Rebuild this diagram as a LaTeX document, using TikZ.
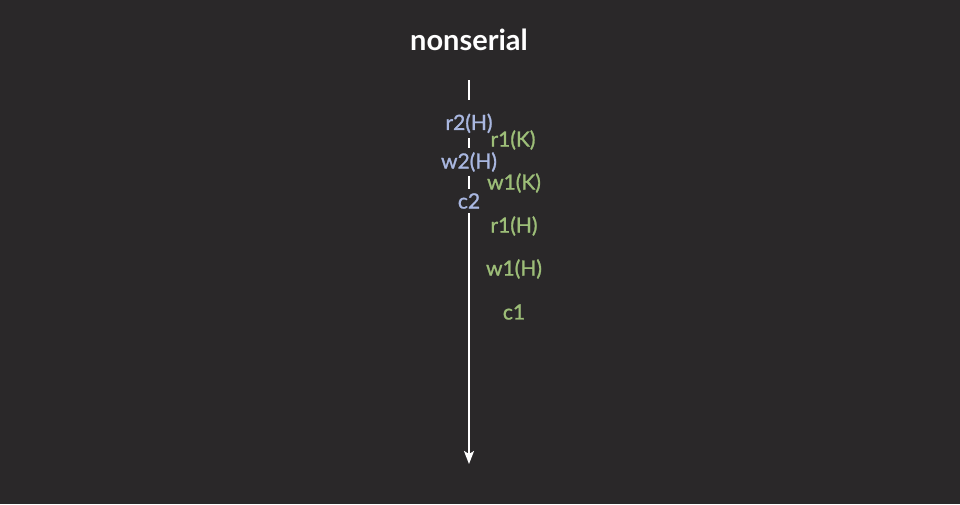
\documentclass[tikz,border=0pt]{standalone}
\usepackage{fontspec}
\setmainfont{Lato}
\newfontfamily\lblfont[FakeBold=1.2]{Lato}
\usetikzlibrary{arrows.meta}
\definecolor{bg}{HTML}{2A2829}
\definecolor{tblue}{HTML}{A9B7E0}
\definecolor{tgreen}{HTML}{9DBE78}
\tikzset{
  px/.style={x=1pt,y=-1pt},
  lbl/.style={inner xsep=1pt,inner ysep=4.5pt,font=\lblfont\fontsize{21}{24}\selectfont},
  tone/.style={lbl,fill=bg,text=tblue},
  ttwo/.style={lbl,text=tgreen},
  axis/.style={draw=white,line width=1.8pt,-{Stealth[length=13pt,width=10pt,inset=3pt]}}
}
\begin{document}
\begin{tikzpicture}[px]
\useasboundingbox[fill=bg] (0,0) rectangle (960,504);
\node[text=white,font=\fontsize{29}{32}\selectfont\bfseries] (title) at (469,40) {nonserial};
\coordinate (top) at (469,80);
\coordinate (bot) at (469,464);
\draw[axis] (top) -- (bot);
\node[tone,text height=25pt] (a) at (469,119) {r2(H)};
\node[tone] (b) at (469,162) {w2(H)};
\node[tone] (c) at (469,201) {c2};
\node[ttwo] (d) at (513,140) {r1(K)};
\node[ttwo] (e) at (514,183) {w1(K)};
\node[ttwo] (f) at (514,226) {r1(H)};
\node[ttwo] (g) at (514,269) {w1(H)};
\node[ttwo] (h) at (514,312) {c1};
\end{tikzpicture}
\end{document}
